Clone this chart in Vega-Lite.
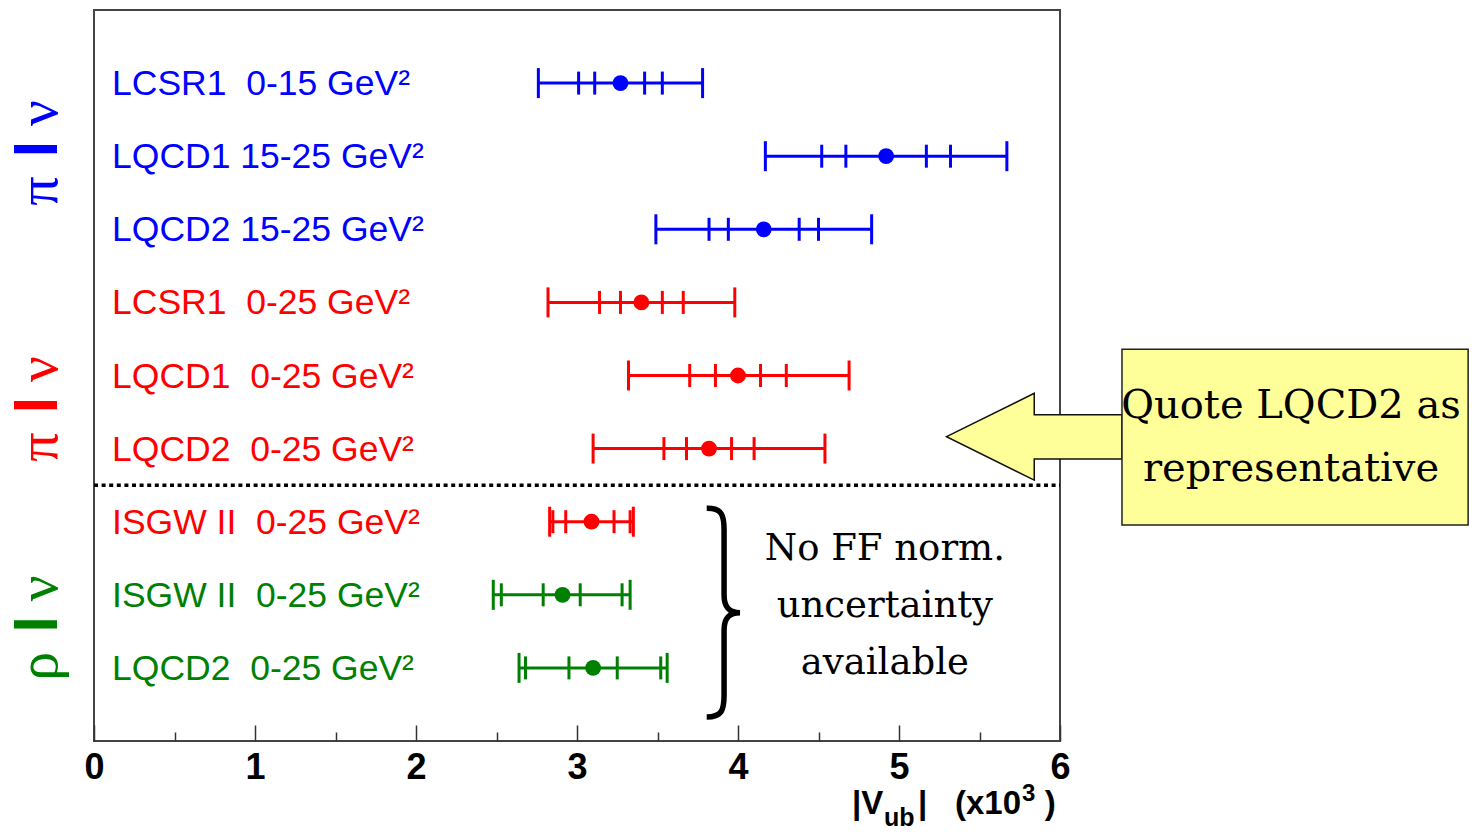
{
  "$schema": "https://vega.github.io/schema/vega-lite/v6.json",
  "width": 966,
  "height": 731,
  "autosize": {"type": "none"},
  "padding": {"left": 94, "top": 10, "right": 412, "bottom": 91},
  "background": "white",
  "config": {
    "view": {"stroke": "#444", "strokeWidth": 2},
    "axisY": {"disable": true}
  },
  "datasets": {
    "bars": [
      {"row": 1, "label": "LCSR1\u00a0 0-15 GeV²", "mode": "pi_q2bins", "lo3": 2.76, "lo2": 3.01, "lo1": 3.11, "val": 3.27, "hi1": 3.42, "hi2": 3.53, "hi3": 3.78},
      {"row": 2, "label": "LQCD1 15-25 GeV²", "mode": "pi_q2bins", "lo3": 4.17, "lo2": 4.52, "lo1": 4.67, "val": 4.92, "hi1": 5.17, "hi2": 5.32, "hi3": 5.67},
      {"row": 3, "label": "LQCD2 15-25 GeV²", "mode": "pi_q2bins", "lo3": 3.49, "lo2": 3.82, "lo1": 3.94, "val": 4.16, "hi1": 4.38, "hi2": 4.5, "hi3": 4.83},
      {"row": 4, "label": "LCSR1\u00a0 0-25 GeV²", "mode": "pi_full", "lo3": 2.82, "lo2": 3.14, "lo1": 3.27, "val": 3.4, "hi1": 3.53, "hi2": 3.66, "hi3": 3.98},
      {"row": 5, "label": "LQCD1\u00a0 0-25 GeV²", "mode": "pi_full", "lo3": 3.32, "lo2": 3.7, "lo1": 3.86, "val": 4.0, "hi1": 4.14, "hi2": 4.3, "hi3": 4.69},
      {"row": 6, "label": "LQCD2\u00a0 0-25 GeV²", "mode": "pi_full", "lo3": 3.1, "lo2": 3.54, "lo1": 3.68, "val": 3.82, "hi1": 3.96, "hi2": 4.1, "hi3": 4.54},
      {"row": 7, "label": "ISGW II\u00a0 0-25 GeV²", "mode": "pi_full", "lo3": 2.83, "lo2": 2.85, "lo1": 2.93, "val": 3.09, "hi1": 3.23, "hi2": 3.33, "hi3": 3.35},
      {"row": 8, "label": "ISGW II\u00a0 0-25 GeV²", "mode": "rho", "lo3": 2.48, "lo2": 2.53, "lo1": 2.79, "val": 2.91, "hi1": 3.02, "hi2": 3.28, "hi3": 3.33},
      {"row": 9, "label": "LQCD2\u00a0 0-25 GeV²", "mode": "rho", "lo3": 2.64, "lo2": 2.68, "lo1": 2.95, "val": 3.1, "hi1": 3.25, "hi2": 3.52, "hi3": 3.56}
    ],
    "groups": [
      {"group_row": 2, "mode": "pi_q2bins", "meson": "π"},
      {"group_row": 5.5, "mode": "pi_full", "meson": "π"},
      {"group_row": 8.5, "mode": "rho", "meson": "ρ"}
    ],
    "one": [{}]
  },
  "layer": [
    {
      "data": {"name": "bars"},
      "mark": {"type": "rule", "strokeWidth": 3},
      "encoding": {
        "x": {"field": "lo3", "type": "quantitative", "scale": {"domain": [0, 6], "nice": false, "zero": false},
          "axis": {
            "title": null, "domain": false, "grid": false,
            "values": [0, 0.5, 1, 1.5, 2, 2.5, 3, 3.5, 4, 4.5, 5, 5.5, 6],
            "labelExpr": "datum.value % 1 === 0 ? format(datum.value, 'd') : ''",
            "labelFont": "Liberation Sans", "labelFontWeight": "bold", "labelFontSize": 36, "labelColor": "black",
            "labelPadding": 25, "labelFlush": false, "labelOverlap": false,
            "tickColor": "#333", "tickWidth": 1.5,
            "tickSize": {"condition": {"test": "datum.value % 1 !== 0", "value": -9}, "value": -16}
          }},
        "x2": {"field": "hi3"},
        "y": {"field": "row", "type": "quantitative", "scale": {"domain": [0, 10], "reverse": true, "nice": false, "zero": false}},
        "color": {"field": "mode", "type": "nominal", "scale": {"domain": ["pi_q2bins", "pi_full", "rho"], "range": ["#0000ff", "#ff0000", "#008000"]}, "legend": null}
      }
    },
    {
      "data": {"name": "bars"},
      "transform": [{"fold": ["lo3", "hi3"], "as": ["which", "xv"]}],
      "mark": {"type": "tick", "orient": "vertical", "size": 30, "thickness": 3, "opacity": 1},
      "encoding": {
        "x": {"field": "xv", "type": "quantitative", "title": null},
        "y": {"field": "row", "type": "quantitative"},
        "color": {"field": "mode", "type": "nominal", "legend": null}
      }
    },
    {
      "data": {"name": "bars"},
      "transform": [{"fold": ["lo2", "lo1", "hi1", "hi2"], "as": ["which", "xv"]}],
      "mark": {"type": "tick", "orient": "vertical", "size": 23, "thickness": 3, "opacity": 1},
      "encoding": {
        "x": {"field": "xv", "type": "quantitative", "title": null},
        "y": {"field": "row", "type": "quantitative"},
        "color": {"field": "mode", "type": "nominal", "legend": null}
      }
    },
    {
      "data": {"name": "bars"},
      "mark": {"type": "point", "shape": "circle", "filled": true, "size": 250, "opacity": 1},
      "encoding": {
        "x": {"field": "val", "type": "quantitative", "title": null},
        "y": {"field": "row", "type": "quantitative"},
        "color": {"field": "mode", "type": "nominal", "legend": null}
      }
    },
    {
      "data": {"name": "bars"},
      "mark": {"type": "text", "align": "left", "baseline": "alphabetic", "dy": 12, "font": "Liberation Sans", "fontSize": 35.5},
      "encoding": {
        "x": {"datum": 0.112, "type": "quantitative"},
        "y": {"field": "row", "type": "quantitative"},
        "text": {"field": "label"},
        "color": {"field": "mode", "type": "nominal", "legend": null}
      }
    },
    {
      "data": {"name": "groups"},
      "mark": {"type": "text", "align": "center", "baseline": "alphabetic", "angle": 270, "dx": -35, "font": "Liberation Serif", "fontSize": 58},
      "encoding": {
        "x": {"datum": -0.227, "type": "quantitative"},
        "y": {"field": "group_row", "type": "quantitative"},
        "text": {"field": "meson"},
        "color": {"field": "mode", "type": "nominal", "legend": null}
      }
    },
    {
      "data": {"name": "groups"},
      "mark": {"type": "text", "align": "center", "baseline": "alphabetic", "angle": 270, "dx": 7, "font": "Liberation Sans", "fontWeight": "bold", "fontSize": 60},
      "encoding": {
        "x": {"datum": -0.227, "type": "quantitative"},
        "y": {"field": "group_row", "type": "quantitative"},
        "text": {"value": "l"},
        "color": {"field": "mode", "type": "nominal", "legend": null}
      }
    },
    {
      "data": {"name": "groups"},
      "mark": {"type": "text", "align": "center", "baseline": "alphabetic", "angle": 270, "dx": 43, "font": "Liberation Serif", "fontSize": 58},
      "encoding": {
        "x": {"datum": -0.227, "type": "quantitative"},
        "y": {"field": "group_row", "type": "quantitative"},
        "text": {"value": "ν"},
        "color": {"field": "mode", "type": "nominal", "legend": null}
      }
    },
    {
      "data": {"name": "one"},
      "mark": {"type": "rule", "color": "black", "strokeWidth": 3.5, "strokeDash": [4, 3.6]},
      "encoding": {
        "x": {"datum": 0, "type": "quantitative"},
        "x2": {"datum": 6},
        "y": {"datum": 6.5, "type": "quantitative"}
      }
    },
    {
      "data": {"name": "one"},
      "mark": {"type": "point", "shape": "M-1,0 L0,-0.495 L0,-0.25 L1,-0.25 L1,0.255 L0,0.255 L0,0.495 Z", "size": 30765, "filled": true, "fill": "#ffff99", "stroke": "#111", "strokeWidth": 1.5, "opacity": 1},
      "encoding": {
        "x": {"datum": 5.84, "type": "quantitative"},
        "y": {"datum": 5.837, "type": "quantitative"}
      }
    },
    {
      "data": {"name": "one"},
      "mark": {"type": "rect", "fill": "#ffff99", "stroke": "#222", "strokeWidth": 1.5},
      "encoding": {
        "x": {"datum": 6.385, "type": "quantitative"},
        "x2": {"datum": 8.535},
        "y": {"datum": 4.642, "type": "quantitative"},
        "y2": {"datum": 7.045}
      }
    },
    {
      "data": {"name": "one"},
      "mark": {"type": "text", "align": "center", "baseline": "alphabetic", "font": "DejaVu Serif", "fontSize": 40, "lineHeight": 63, "color": "black"},
      "encoding": {
        "x": {"datum": 7.435, "type": "quantitative"},
        "y": {"datum": 5.585, "type": "quantitative"},
        "text": {"value": ["Quote LQCD2 as", "representative"]}
      }
    },
    {
      "data": {"name": "one"},
      "mark": {"type": "point", "shape": "M-0.156,-0.999 C-0.01,-1.002 0.01,-0.935 0.01,-0.791 L0.01,-0.169 C0.01,-0.045 0.067,0 0.163,0 C0.067,0 0.01,0.041 0.01,0.166 L0.01,0.788 C0.01,0.931 -0.01,0.998 -0.156,0.998", "size": 43681, "filled": false, "stroke": "black", "strokeWidth": 5.5, "opacity": 1},
      "encoding": {
        "x": {"datum": 3.907, "type": "quantitative"},
        "y": {"datum": 8.245, "type": "quantitative"}
      }
    },
    {
      "data": {"name": "one"},
      "mark": {"type": "text", "align": "center", "baseline": "alphabetic", "font": "DejaVu Serif", "fontSize": 37, "lineHeight": 57, "color": "black"},
      "encoding": {
        "x": {"datum": 4.912, "type": "quantitative"},
        "y": {"datum": 7.524, "type": "quantitative"},
        "text": {"value": ["No FF norm.", "uncertainty", "available"]}
      }
    },
    {
      "data": {"name": "one"},
      "mark": {"type": "text", "align": "left", "baseline": "alphabetic", "font": "Liberation Sans", "fontWeight": "bold", "fontSize": 33, "color": "black"},
      "encoding": {
        "x": {"datum": 4.708, "type": "quantitative"},
        "y": {"datum": 11.0, "type": "quantitative"},
        "text": {"value": "|V"}
      }
    },
    {
      "data": {"name": "one"},
      "mark": {"type": "text", "align": "left", "baseline": "alphabetic", "font": "Liberation Sans", "fontWeight": "bold", "fontSize": 25, "color": "black"},
      "encoding": {
        "x": {"datum": 4.907, "type": "quantitative"},
        "y": {"datum": 11.16, "type": "quantitative"},
        "text": {"value": "ub"}
      }
    },
    {
      "data": {"name": "one"},
      "mark": {"type": "text", "align": "left", "baseline": "alphabetic", "font": "Liberation Sans", "fontWeight": "bold", "fontSize": 33, "color": "black"},
      "encoding": {
        "x": {"datum": 5.118, "type": "quantitative"},
        "y": {"datum": 11.0, "type": "quantitative"},
        "text": {"value": "|"}
      }
    },
    {
      "data": {"name": "one"},
      "mark": {"type": "text", "align": "left", "baseline": "alphabetic", "font": "Liberation Sans", "fontWeight": "bold", "fontSize": 33, "color": "black"},
      "encoding": {
        "x": {"datum": 5.348, "type": "quantitative"},
        "y": {"datum": 11.0, "type": "quantitative"},
        "text": {"value": "(x10"}
      }
    },
    {
      "data": {"name": "one"},
      "mark": {"type": "text", "align": "left", "baseline": "alphabetic", "font": "Liberation Sans", "fontWeight": "bold", "fontSize": 24, "color": "black"},
      "encoding": {
        "x": {"datum": 5.764, "type": "quantitative"},
        "y": {"datum": 10.82, "type": "quantitative"},
        "text": {"value": "3"}
      }
    },
    {
      "data": {"name": "one"},
      "mark": {"type": "text", "align": "left", "baseline": "alphabetic", "font": "Liberation Sans", "fontWeight": "bold", "fontSize": 33, "color": "black"},
      "encoding": {
        "x": {"datum": 5.905, "type": "quantitative"},
        "y": {"datum": 11.0, "type": "quantitative"},
        "text": {"value": ")"}
      }
    }
  ]
}
